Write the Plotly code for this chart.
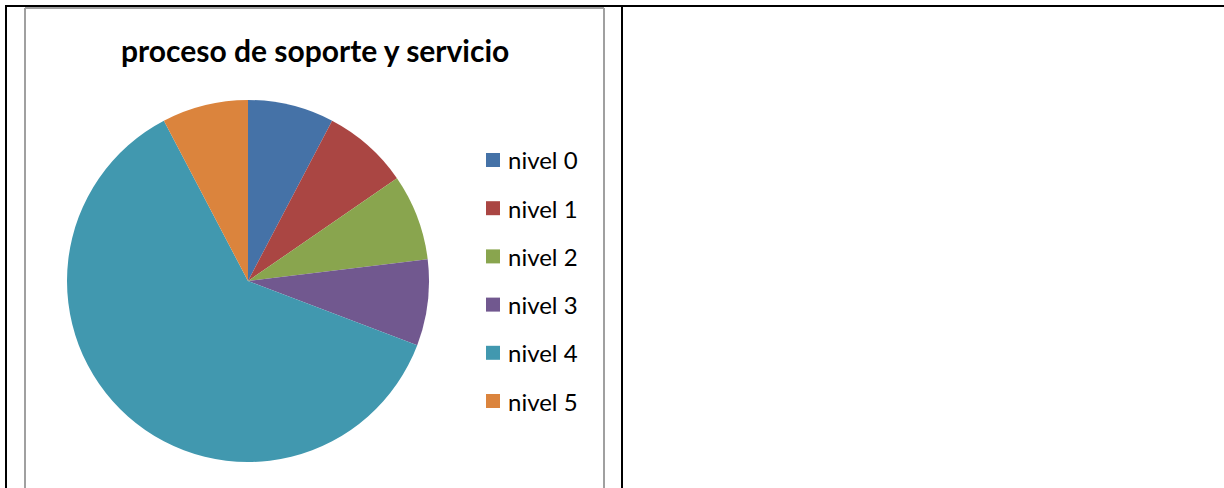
import plotly.graph_objects as go

labels = ["nivel 0", "nivel 1", "nivel 2", "nivel 3", "nivel 4", "nivel 5"]
values = [1, 1, 1, 1, 8, 1]
colors = ["#4572A7", "#AA4643", "#89A54E", "#71588F", "#4198AF", "#DB843D"]
title = "proceso de soporte y servicio"

W, H = 1224, 488
px = lambda x: x / W
py = lambda y: 1 - y / H

fig = go.Figure()
fig.add_trace(go.Pie(
    labels=labels, values=values, sort=False, direction="clockwise", rotation=0,
    marker=dict(colors=colors, line=dict(width=0)),
    textinfo="none", hoverinfo="label+value+percent",
    domain=dict(x=[px(67), px(429)], y=[py(462), py(100)]),
    showlegend=False,
))

shapes = []
# outer table lines
shapes.append(dict(type="line", xref="paper", yref="paper", x0=px(5), x1=px(1224), y0=py(6), y1=py(6), line=dict(color="black", width=2)))
shapes.append(dict(type="line", xref="paper", yref="paper", x0=px(6), x1=px(6), y0=py(5), y1=py(490), line=dict(color="black", width=2)))
shapes.append(dict(type="line", xref="paper", yref="paper", x0=px(622), x1=px(622), y0=py(5), y1=py(490), line=dict(color="black", width=2)))
# chart area border
shapes.append(dict(type="line", xref="paper", yref="paper", x0=px(25), x1=px(604), y0=py(8), y1=py(8), line=dict(color="#A0A0A0", width=2)))
shapes.append(dict(type="line", xref="paper", yref="paper", x0=px(25), x1=px(25), y0=py(8), y1=py(490), line=dict(color="#A0A0A0", width=2)))
shapes.append(dict(type="line", xref="paper", yref="paper", x0=px(604), x1=px(604), y0=py(8), y1=py(490), line=dict(color="#A0A0A0", width=2)))

annotations = [dict(text="<b>" + title + "</b>", xref="paper", yref="paper", x=px(315), y=py(50),
                    xanchor="center", yanchor="middle", showarrow=False,
                    font=dict(family="Lato, Open Sans, sans-serif", size=30, color="black"))]

for i, (lab, col) in enumerate(zip(labels, colors)):
    yc = 160 + i * 48.2
    shapes.append(dict(type="rect", xref="paper", yref="paper", x0=px(486), x1=px(500),
                       y0=py(yc + 7), y1=py(yc - 7), fillcolor=col, line=dict(width=0)))
    annotations.append(dict(text=lab, xref="paper", yref="paper", x=px(506), y=py(yc),
                            xanchor="left", yanchor="middle", showarrow=False,
                            font=dict(family="Lato, Open Sans, sans-serif", size=24, color="black")))

fig.update_layout(width=W, height=H, margin=dict(l=0, r=0, t=0, b=0),
                  paper_bgcolor="white", plot_bgcolor="white",
                  shapes=shapes, annotations=annotations, showlegend=False)

fig.write_html("out.html", config={"displayModeBar": False},
               post_script="document.body.style.margin='0px';document.body.style.overflow='hidden';")
